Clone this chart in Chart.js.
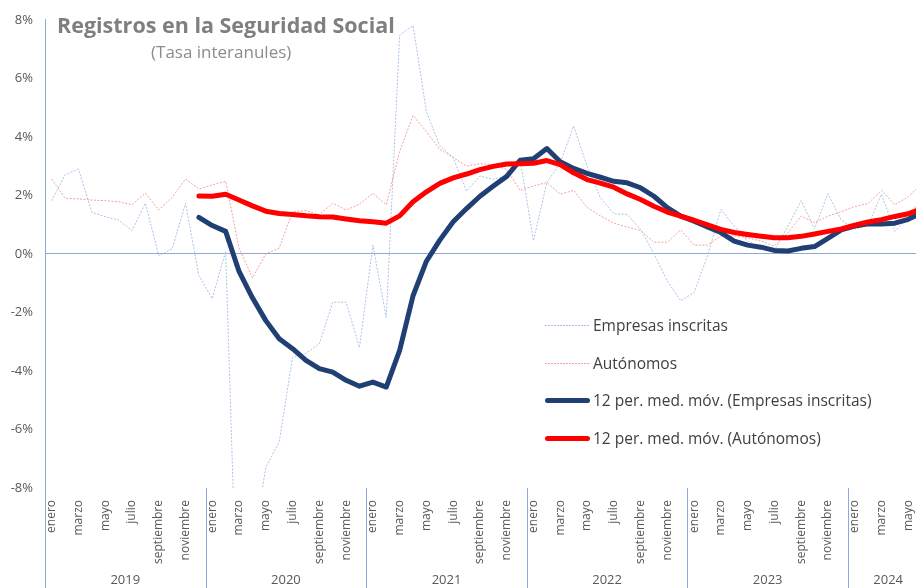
<!DOCTYPE html>
<html lang="es">
<head>
<meta charset="utf-8">
<title>Registros en la Seguridad Social</title>
<script src="https://cdn.jsdelivr.net/npm/chart.js@4.4.1/dist/chart.umd.min.js"></script>
<style>
  html, body { margin: 0; padding: 0; background: #fff; overflow: hidden; }
  #wrap { position: relative; width: 916px; height: 588px; overflow: hidden; font-family: "Open Sans", sans-serif; }
  #grafico { position: absolute; left: 0; top: 0; }
  .titulo { position: absolute; left: 57px; top: 10px; font-size: 21.5px; font-weight: bold; color: #7f7f7f; white-space: nowrap; }
  .subtitulo { position: absolute; left: 151px; top: 40px; font-size: 17px; color: #8c8c8c; white-space: nowrap; }
  .item { position: absolute; left: 545px; height: 20px; font-size: 15.5px; color: #404040; white-space: nowrap; }
  .item span { position: absolute; left: 0; width: 45px; }
  .item b { position: absolute; left: 48px; top: 0; font-weight: normal; line-height: 20px; }
  .fina { top: 10px; height: 1px; }
  .gruesa { top: 8px; height: 5px; border-radius: 3px; }
</style>
</head>
<body>
<div id="wrap">
  <canvas id="grafico" width="940" height="588"></canvas>
  <div class="titulo">Registros en la Seguridad Social</div>
  <div class="subtitulo">(Tasa interanules)</div>
  <div class="item" style="top:315px"><span class="fina" style="background:repeating-linear-gradient(to right, #a9c3e6 0 2px, transparent 2px 3px)"></span><b>Empresas inscritas</b></div>
  <div class="item" style="top:353px"><span class="fina" style="background:repeating-linear-gradient(to right, #f2a0a0 0 2px, transparent 2px 3px)"></span><b>Autónomos</b></div>
  <div class="item" style="top:390px"><span class="gruesa" style="background:#203f73"></span><b>12 per. med. móv. (Empresas inscritas)</b></div>
  <div class="item" style="top:428px"><span class="gruesa" style="background:#ff0000"></span><b>12 per. med. móv. (Autónomos)</b></div>
</div>
<script>
// datos: ene 2019 - jun 2024, tasa interanual en %
const meses = ['enero', 'febrero', 'marzo', 'abril', 'mayo', 'junio', 'julio', 'agosto', 'septiembre', 'octubre', 'noviembre', 'diciembre'];
const anios = ['2019', '2020', '2021', '2022', '2023', '2024'];
const mesesPorAnio = [12, 12, 12, 12, 12, 6];

const empresas = [
  1.82, 2.7, 2.9, 1.42, 1.27, 1.16, 0.8, 1.73, -0.06, 0.17, 1.73, -0.74,
  -1.53, 0.09, -14.5, -10.1, -7.3, -6.42, -3.53, -3.4, -3.07, -1.65, -1.65, -3.2,
  0.3, -2.17, 7.48, 7.8, 4.86, 3.7, 3.29, 2.15, 2.66, 2.55, 2.66, 3.23,
  0.45, 2.44, 3.1, 4.37, 3.0, 1.92, 1.37, 1.35, 0.84, 0.0, -0.92, -1.6,
  -1.32, -0.07, 1.52, 0.95, 0.44, 0.2, 0.12, 0.93, 1.82, 0.85, 2.06, 1.16,
  0.85, 0.97, 2.04, 0.77, 1.25, 1.9
];
const autonomos = [
  2.56, 1.9, 1.88, 1.84, 1.82, 1.78, 1.68, 2.08, 1.5, 1.93, 2.56, 2.22,
  2.36, 2.48, 0.2, -0.82, 0.0, 0.2, 1.45, 1.48, 1.34, 1.73, 1.5, 1.7,
  2.07, 1.68, 3.5, 4.73, 4.18, 3.57, 3.3, 3.0, 3.08, 3.05, 2.88, 2.17,
  2.32, 2.44, 2.04, 2.17, 1.59, 1.3, 1.05, 0.92, 0.8, 0.4, 0.4, 0.82,
  0.3, 0.3, 0.61, 0.61, 0.55, 0.44, 0.27, 0.73, 1.29, 1.07, 1.29, 1.44,
  1.62, 1.72, 2.17, 1.68, 1.95, 2.4
];
const mediaEmpresas = [
  null, null, null, null, null, null, null, null, null, null, null, 1.25,
  0.97, 0.77, -0.6, -1.5, -2.28, -2.9, -3.24, -3.64, -3.92, -4.04, -4.32, -4.52,
  -4.38, -4.55, -3.3, -1.43, -0.25, 0.47, 1.1, 1.55, 1.97, 2.32, 2.65, 3.2,
  3.25, 3.6, 3.15, 2.92, 2.75, 2.62, 2.48, 2.43, 2.26, 1.97, 1.58, 1.29,
  1.12, 0.92, 0.73, 0.44, 0.3, 0.23, 0.12, 0.1, 0.19, 0.25, 0.53, 0.82,
  0.95, 1.03, 1.02, 1.05, 1.18, 1.4
];
const mediaAutonomos = [
  null, null, null, null, null, null, null, null, null, null, null, 1.98,
  1.97, 2.04, 1.84, 1.64, 1.46, 1.38, 1.35, 1.3, 1.27, 1.26, 1.19, 1.13,
  1.1, 1.05, 1.3, 1.78, 2.12, 2.41, 2.6, 2.73, 2.88, 2.99, 3.07, 3.08,
  3.1, 3.19, 3.05, 2.77, 2.54, 2.42, 2.28, 2.05, 1.86, 1.63, 1.43, 1.29,
  1.15, 0.99, 0.84, 0.73, 0.66, 0.6, 0.55, 0.55, 0.6, 0.68, 0.77, 0.85,
  0.98, 1.09, 1.17, 1.28, 1.37, 1.55
];

// etiquetas del eje x
const etiquetas = [];
mesesPorAnio.forEach(n => {
  for (let m = 0; m < n; m++) etiquetas.push(meses[m]);
});

const azulEje = '#8eaadb';
const grisTexto = '#595959';
const fuente = 'Open Sans';

// años y separadores debajo de los meses
const ejeAnios = {
  id: 'ejeAnios',
  afterDraw(chart) {
    const x = chart.scales.x;
    const ctx = chart.ctx;
    const ancho = (x.right - x.left) / etiquetas.length;
    let inicio = 0;
    ctx.save();
    ctx.strokeStyle = azulEje;
    ctx.lineWidth = 1;
    ctx.fillStyle = grisTexto;
    ctx.font = '13px "' + fuente + '"';
    ctx.textAlign = 'center';
    ctx.textBaseline = 'middle';
    for (let i = 0; i <= anios.length; i++) {
      const px = Math.round(x.left + inicio * ancho) + 0.5;
      ctx.beginPath();
      ctx.moveTo(px, chart.chartArea.bottom);
      ctx.lineTo(px, chart.height);
      ctx.stroke();
      if (i < anios.length) {
        const fin = inicio + mesesPorAnio[i];
        ctx.fillText(anios[i], x.left + (inicio + fin) / 2 * ancho, 580);
        inicio = fin;
      }
    }
    ctx.restore();
  }
};

new Chart(document.getElementById('grafico'), {
  type: 'line',
  data: {
    labels: etiquetas,
    datasets: [
      {
        label: 'Empresas inscritas',
        data: empresas,
        borderColor: '#a9c3e6',
        borderWidth: 1,
        borderDash: [2, 1.5],
        pointRadius: 0,
        order: 3
      },
      {
        label: 'Autónomos',
        data: autonomos,
        borderColor: '#f2a0a0',
        borderWidth: 1,
        borderDash: [2, 1.5],
        pointRadius: 0,
        order: 2
      },
      {
        label: '12 per. med. móv. (Empresas inscritas)',
        data: mediaEmpresas,
        borderColor: '#203f73',
        borderWidth: 5,
        borderCapStyle: 'round',
        borderJoinStyle: 'round',
        pointRadius: 0,
        order: 1
      },
      {
        label: '12 per. med. móv. (Autónomos)',
        data: mediaAutonomos,
        borderColor: '#ff0000',
        borderWidth: 5,
        borderCapStyle: 'round',
        borderJoinStyle: 'round',
        pointRadius: 0,
        order: 0
      }
    ]
  },
  options: {
    responsive: false,
    animation: false,
    layout: { padding: { top: 18, right: 1, bottom: 0, left: 0 } },
    plugins: {
      legend: { display: false },
      title: { display: false },
      tooltip: { enabled: false }
    },
    scales: {
      x: {
        offset: true,
        grid: { display: false },
        border: { display: false },
        ticks: {
          autoSkip: false,
          maxRotation: 90,
          minRotation: 90,
          padding: 4,
          color: grisTexto,
          font: { family: fuente, size: 12 },
          callback: function (v, i) { return i % 2 === 0 ? this.getLabelForValue(v) : ''; }
        },
        afterFit: s => { s.height = 100; }
      },
      y: {
        min: -8,
        max: 8,
        border: { display: true, color: azulEje },
        grid: {
          drawTicks: false,
          color: c => c.tick && c.tick.value === 0 ? azulEje : 'transparent'
        },
        ticks: {
          stepSize: 2,
          padding: 12,
          color: grisTexto,
          font: { family: fuente, size: 13 },
          callback: v => v + '%'
        },
        afterFit: s => { s.width = 45; }
      }
    }
  },
  plugins: [ejeAnios]
});
</script>
</body>
</html>
